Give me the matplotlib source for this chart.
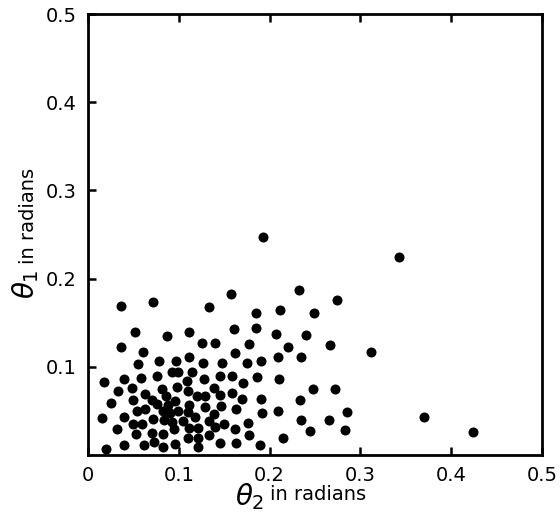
import numpy as np
import matplotlib
matplotlib.use('Agg')
import matplotlib.pyplot as plt

# theta_2 (x) and theta_1 (y) values, in radians
theta2 = [0.036, 0.072, 0.052, 0.087, 0.111, 0.036, 0.061, 0.055, 0.078, 0.097,
          0.111, 0.158, 0.133, 0.185, 0.212, 0.161, 0.185, 0.207, 0.125, 0.140,
          0.177, 0.162, 0.127, 0.148, 0.175, 0.191, 0.209, 0.193, 0.232, 0.274,
          0.249, 0.240, 0.220, 0.267, 0.235, 0.312, 0.343, 0.093, 0.099, 0.114,
          0.018, 0.040, 0.058, 0.076, 0.109, 0.128, 0.033, 0.049, 0.082, 0.098,
          0.110, 0.120, 0.129, 0.063, 0.086, 0.025, 0.050, 0.070, 0.076, 0.096,
          0.111, 0.129, 0.088, 0.054, 0.063, 0.083, 0.090, 0.099, 0.110, 0.015,
          0.040, 0.072, 0.084, 0.105, 0.118, 0.093, 0.050, 0.060, 0.095, 0.111,
          0.121, 0.032, 0.053, 0.071, 0.083, 0.110, 0.121, 0.073, 0.062, 0.040,
          0.083, 0.096, 0.121, 0.020, 0.145, 0.159, 0.171, 0.186, 0.210, 0.139,
          0.145, 0.159, 0.170, 0.191, 0.147, 0.163, 0.192, 0.209, 0.139, 0.133,
          0.150, 0.176, 0.140, 0.162, 0.177, 0.133, 0.215, 0.145, 0.163, 0.189,
          0.248, 0.272, 0.233, 0.235, 0.265, 0.285, 0.245, 0.283, 0.370, 0.424]
theta1 = [0.169, 0.173, 0.139, 0.135, 0.139, 0.122, 0.117, 0.103, 0.107, 0.107,
          0.111, 0.183, 0.168, 0.161, 0.164, 0.143, 0.144, 0.137, 0.127, 0.127,
          0.126, 0.116, 0.104, 0.104, 0.104, 0.107, 0.111, 0.247, 0.187, 0.176,
          0.161, 0.136, 0.122, 0.125, 0.111, 0.117, 0.224, 0.094, 0.094, 0.094,
          0.083, 0.086, 0.087, 0.090, 0.084, 0.086, 0.073, 0.076, 0.075, 0.077,
          0.073, 0.067, 0.067, 0.069, 0.067, 0.059, 0.062, 0.062, 0.058, 0.061,
          0.057, 0.054, 0.057, 0.050, 0.052, 0.050, 0.048, 0.050, 0.049, 0.042,
          0.043, 0.041, 0.040, 0.039, 0.043, 0.037, 0.035, 0.035, 0.029, 0.031,
          0.031, 0.029, 0.024, 0.025, 0.024, 0.019, 0.019, 0.015, 0.011, 0.011,
          0.009, 0.012, 0.009, 0.007, 0.090, 0.090, 0.082, 0.088, 0.086, 0.076,
          0.068, 0.070, 0.063, 0.063, 0.056, 0.052, 0.048, 0.050, 0.046, 0.039,
          0.035, 0.036, 0.032, 0.029, 0.023, 0.023, 0.019, 0.014, 0.014, 0.011,
          0.075, 0.075, 0.062, 0.040, 0.040, 0.049, 0.027, 0.028, 0.043, 0.026]

xticks = [0, 0.1, 0.2, 0.3, 0.4, 0.5]
xlabels = ['0', '0.1', '0.2', '0.3', '0.4', '0.5']
yticks = [0.1, 0.2, 0.3, 0.4, 0.5]
ylabels = ['0.1', '0.2', '0.3', '0.4', '0.5']

fig = plt.figure(figsize=(5.6, 5.29), dpi=100)
ax = fig.add_axes([88 / 560, 1 - 455 / 529, 454 / 560, 441 / 529])

ax.scatter(theta2, theta1, s=52, color='black', linewidths=0)

ax.set_xlim(0, 0.5)
ax.set_ylim(0, 0.5)
ax.set_xticks(xticks)
ax.set_xticklabels(xlabels)
ax.set_yticks(yticks)
ax.set_yticklabels(ylabels)
ax.tick_params(direction='in', length=6, width=1.8, labelsize=14,
               top=True, right=False, pad=8)
for sp in ax.spines.values():
    sp.set_linewidth(2)

# axis labels: large theta with subscript, smaller "in radians"
fig.text(0.472, 0.045, r'$\theta_2$', fontsize=20, ha='right', va='baseline')
fig.text(0.482, 0.055, 'in radians', fontsize=14, ha='left', va='baseline')
fig.text(0.045, 0.49, r'$\theta_1$', fontsize=20, rotation=90, ha='center', va='top')
fig.text(0.05, 0.5, 'in radians', fontsize=14, rotation=90, ha='center', va='bottom')

fig.savefig('out.png', dpi=100)
